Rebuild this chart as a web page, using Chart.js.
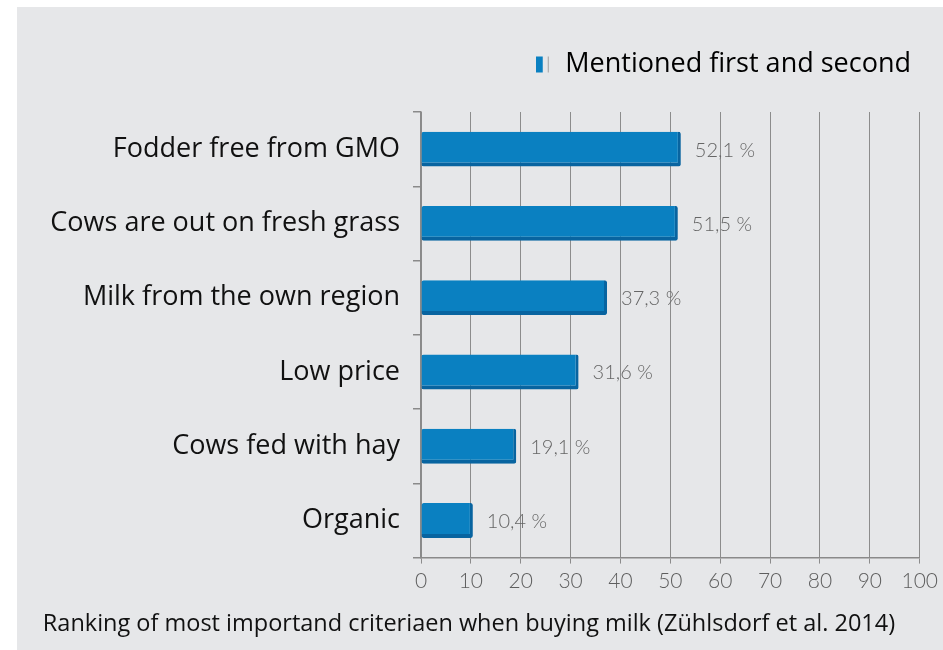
<!DOCTYPE html>
<html>
<head>
<meta charset="utf-8">
<script src="https://cdn.jsdelivr.net/npm/chart.js@4.4.1/dist/chart.umd.min.js"></script>
<style>
    html, body { margin: 0; padding: 0; background: #ffffff; }
    #wrap {
        position: absolute;
        left: 17px;
        top: 7px;
        width: 926px;
        height: 643px;
        background: #e6e7e9;
    }
</style>
</head>
<body>
<div id="wrap"><canvas id="milkCriteriaChart"></canvas></div>
<script>
    // Criteria named first and second when buying milk (share of respondents, %)
    const criteria = [
        'Fodder free from GMO',
        'Cows are out on fresh grass',
        'Milk from the own region',
        'Low price',
        'Cows fed with hay',
        'Organic'
    ];
    const mentionedShare = [52.1, 51.5, 37.3, 31.6, 19.1, 10.4];
    const seriesName = 'Mentioned first and second';
    const xTicks = [0, 10, 20, 30, 40, 50, 60, 70, 80, 90, 100];
    const caption = 'Ranking of most importand criteriaen when buying milk (Zühlsdorf et al. 2014)';

    const barBlue = '#0a80c1';
    const barEdge = '#0864a0';
    const labelFont = "'Open Sans', sans-serif";
    const tickFont = "'Lato', sans-serif";

    // legend swatch: small blue block with a thin grey rule beside it
    const swatch = document.createElement('canvas');
    swatch.width = 16;
    swatch.height = 18;
    (function () {
        const s = swatch.getContext('2d');
        s.fillStyle = barBlue;
        s.fillRect(0, 1, 7, 16);
        s.fillStyle = '#a0a0a0';
        s.fillRect(12, 1, 1, 16);
    })();

    // extra room under the legend so the plot starts lower
    const legendGap = {
        id: 'legendGap',
        beforeInit(chart) {
            const fit = chart.legend.fit;
            chart.legend.fit = function () {
                fit.bind(chart.legend)();
                this.height = 71;
            };
        }
    };

    // percentage label next to each bar, decimal comma
    const valueLabels = {
        id: 'valueLabels',
        afterDatasetsDraw(chart) {
            const ctx = chart.ctx;
            const meta = chart.getDatasetMeta(0);
            ctx.save();
            ctx.font = '300 20px ' + tickFont;
            ctx.fillStyle = '#666666';
            ctx.textAlign = 'left';
            ctx.textBaseline = 'middle';
            meta.data.forEach((bar, i) => {
                const txt = mentionedShare[i].toFixed(1).replace('.', ',') + ' %';
                ctx.fillText(txt, bar.x + 14, bar.y + 1);
            });
            ctx.restore();
        }
    };

    const ctx = document.getElementById('milkCriteriaChart').getContext('2d');
    new Chart(ctx, {
        type: 'bar',
        data: {
            labels: criteria,
            datasets: [{
                label: seriesName,
                data: mentionedShare,
                backgroundColor: barBlue,
                borderColor: barEdge,
                borderWidth: { top: 0, left: 0, right: 3, bottom: 4 },
                borderSkipped: false,
                borderRadius: 2,
                barPercentage: 0.94,
                categoryPercentage: 0.5
            }]
        },
        options: {
            indexAxis: 'y',
            responsive: true,
            maintainAspectRatio: false,
            animation: false,
            layout: {
                padding: { left: 0, right: 22, top: 34, bottom: 12 }
            },
            plugins: {
                legend: {
                    display: true,
                    position: 'top',
                    align: 'end',
                    labels: {
                        color: '#111111',
                        font: { family: labelFont, size: 27 },
                        usePointStyle: true,
                        pointStyleWidth: 16,
                        boxHeight: 18,
                        padding: 10,
                        generateLabels: () => [{
                            text: seriesName,
                            fillStyle: barBlue,
                            strokeStyle: barBlue,
                            lineWidth: 0,
                            pointStyle: swatch,
                            hidden: false,
                            datasetIndex: 0
                        }]
                    }
                },
                title: {
                    display: true,
                    position: 'bottom',
                    text: caption,
                    color: '#111111',
                    font: { family: labelFont, size: 23.5, weight: 'normal' },
                    padding: { top: 11, bottom: 0 }
                },
                tooltip: { enabled: false }
            },
            scales: {
                x: {
                    min: 0,
                    max: 100,
                    afterBuildTicks: (scale) => {
                        scale.ticks = xTicks.map(v => ({ value: v }));
                    },
                    ticks: {
                        color: '#5e5e5e',
                        font: { family: tickFont, size: 21, weight: '300' },
                        padding: 5
                    },
                    grid: {
                        color: '#8c8c8c',
                        lineWidth: 1,
                        tickLength: 6
                    },
                    border: { color: '#8a8a8a', width: 1.5 }
                },
                y: {
                    afterFit: (scale) => { scale.width = 404; },
                    ticks: {
                        color: '#111111',
                        font: { family: labelFont, size: 27 },
                        padding: 13
                    },
                    grid: {
                        drawOnChartArea: false,
                        color: '#8a8a8a',
                        lineWidth: 1.5,
                        tickLength: 8,
                        offset: true
                    },
                    border: { color: '#8a8a8a', width: 1.5 }
                }
            }
        },
        plugins: [legendGap, valueLabels]
    });
</script>
</body>
</html>
